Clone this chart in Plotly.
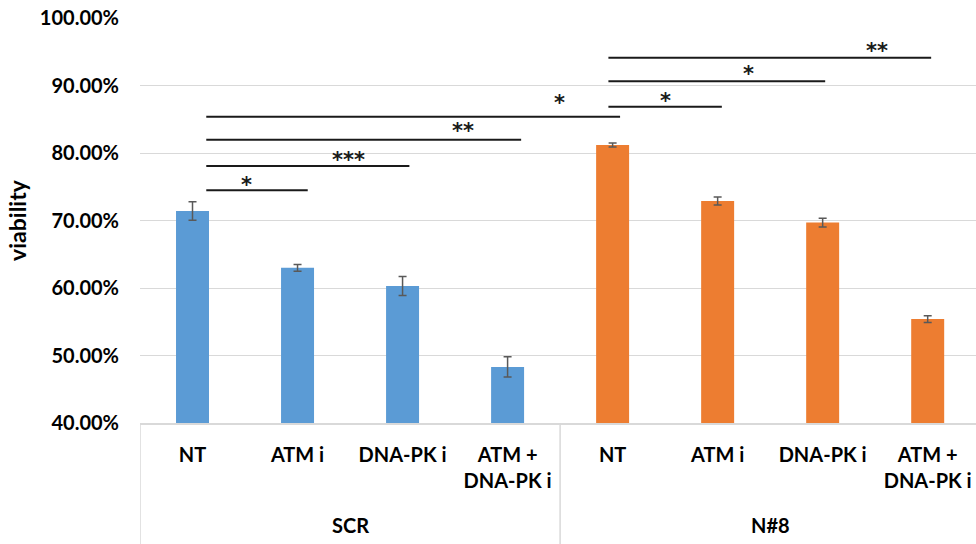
import plotly.graph_objects as go

# ---- data ----
groups = ["SCR", "N#8"]
treatments = ["NT", "ATM i", "DNA-PK i", "ATM +<br>DNA-PK i"]
scr_values = [71.4, 63.0, 60.3, 48.3]
scr_errors = [1.38, 0.5, 1.4, 1.5]
n8_values = [81.2, 72.9, 69.7, 55.4]
n8_errors = [0.3, 0.6, 0.65, 0.5]
y_ticks = [40, 50, 60, 70, 80, 90, 100]
y_ticktext = ["40.00%", "50.00%", "60.00%", "70.00%", "80.00%", "90.00%", "100.00%"]

# significance brackets: (x start, x end, height %, label, label x, label y)
brackets = [
    (0.131, 1.097, 74.47, "*", 0.510, 75.2),
    (0.131, 2.065, 78.07, "***", 1.481, 78.95),
    (0.131, 3.129, 81.97, "**", 2.576, 83.25),
    (0.131, 4.071, 85.38, "*", 3.490, 87.35),
    (3.960, 5.040, 86.86, "*", 4.503, 87.7),
    (3.960, 6.024, 90.62, "*", 5.297, 91.65),
    (3.960, 7.033, 94.12, "**", 6.519, 95.16),
]

FONT = "Lato"
BLUE = "#5B9BD5"
ORANGE = "#ED7D31"
GRID = "#D9D9D9"

n = len(treatments)
x_scr = list(range(n))
x_n8 = list(range(n, 2 * n))

fig = go.Figure()
err_style = dict(type="data", color="#595959", thickness=1.5, width=4)
fig.add_trace(go.Bar(x=x_scr, y=scr_values, width=0.314, marker=dict(color=BLUE, line=dict(width=0)),
                     error_y=dict(array=scr_errors, **err_style), name=groups[0]))
fig.add_trace(go.Bar(x=x_n8, y=n8_values, width=0.314, marker=dict(color=ORANGE, line=dict(width=0)),
                     error_y=dict(array=n8_errors, **err_style), name=groups[1]))

shapes = []
annotations = []
for x0, x1, h, lab, lx, ly in brackets:
    shapes.append(dict(type="line", xref="x", yref="y", x0=x0, x1=x1, y0=h, y1=h,
                       line=dict(color="#1a1a1a", width=2)))
    annotations.append(dict(x=lx, y=ly, xref="x", yref="y", text=lab,
                            showarrow=False, yanchor="middle",
                            font=dict(family="DejaVu Sans", size=21, color="#1a1a1a")))

# group dividers below the axis
for xv in [-0.5, n - 0.5]:
    shapes.append(dict(type="line", xref="x", yref="paper", x0=xv, x1=xv, y0=0, y1=-0.32,
                       line=dict(color=GRID, width=1.5)))

for gi, g in enumerate(groups):
    annotations.append(dict(x=gi * n + (n - 1) / 2, y=-0.252, xref="x", yref="paper", text=g,
                            showarrow=False, yanchor="middle",
                            font=dict(family=FONT, size=20, color="black", weight=700)))

fig.update_layout(
    width=976, height=544,
    margin=dict(l=140, r=0, t=18, b=121),
    plot_bgcolor="white", paper_bgcolor="white",
    showlegend=False, barmode="overlay",
    shapes=shapes, annotations=annotations,
    font=dict(family=FONT, size=20, color="black", weight=700),
)
fig.update_xaxes(
    range=[-0.5, 7.46], automargin=False,
    tickmode="array", tickvals=x_scr + x_n8, ticktext=treatments + treatments,
    showgrid=False, showline=True, linecolor=GRID, linewidth=1.5,
    ticks="", ticklabelstandoff=13, ticklabeloverflow="allow",
    tickfont=dict(family=FONT, size=20, color="black", weight=700),
    zeroline=False,
)
fig.update_yaxes(
    range=[40, 100], automargin=False, tickmode="array", tickvals=y_ticks, ticktext=y_ticktext,
    showgrid=True, gridcolor=GRID, gridwidth=1.2, showline=False, zeroline=False,
    ticks="", ticklabelstandoff=20, ticklabeloverflow="allow",
    tickfont=dict(family=FONT, size=20, color="black", weight=700),
    title=dict(text="viability", standoff=6, font=dict(family=FONT, size=23, color="black", weight=700)),
)

fig.write_html(
    "out.html",
    config={"displayModeBar": False},
    post_script="document.body.style.margin='0';document.body.style.overflow='hidden';",
)
